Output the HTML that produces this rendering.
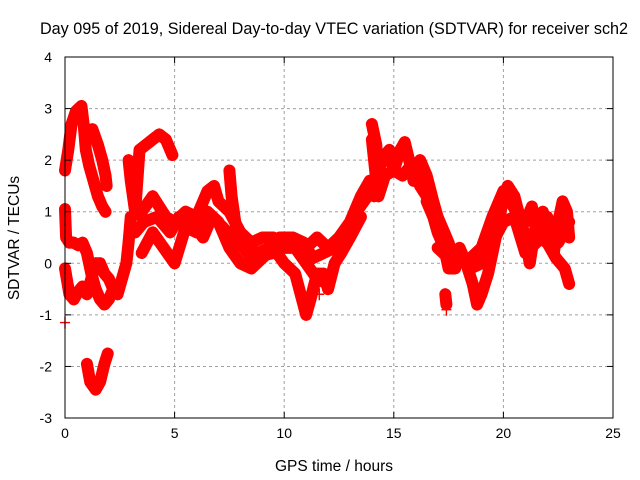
<!DOCTYPE html>
<html><head><meta charset="utf-8"><style>
body{margin:0;background:#fff}
svg{display:block;font-family:"Liberation Sans",sans-serif}
</style></head><body>
<svg id="chart" width="640" height="480" viewBox="0 0 640 480">
<text x="334" y="34" font-size="16.2" text-anchor="middle">Day 095 of 2019, Sidereal Day-to-day VTEC variation (SDTVAR) for receiver sch2</text>
<text x="334" y="471" font-size="15.5" text-anchor="middle">GPS time / hours</text>
<text x="0" y="0" font-size="15.5" text-anchor="middle" transform="translate(19,238) rotate(-90)">SDTVAR / TECUs</text>
<g id="grid"></g>
<g id="marks"></g>
<rect x="65" y="57" width="548" height="361" fill="none" stroke="#000" stroke-width="1"/>
<g id="ticks"></g>
</svg>
<script>
const xTicks=[0,5,10,15,20,25];
const yTicks=[-3,-2,-1,0,1,2,3,4];
const trackA=[[0,1.8],[0.15,2.2],[0.3,2.7],[0.5,2.95],[0.75,3.05],[0.85,2.7],[0.95,2.2],[1.1,1.9],[1.3,1.6],[1.5,1.3],[1.7,1.1],[1.85,1.0]];
const trackB=[[1.25,2.6],[1.5,2.3],[1.7,2.0],[1.85,1.7],[1.9,1.5]];
const trackC=[[1.0,-1.95],[1.15,-2.3],[1.4,-2.45],[1.6,-2.3],[1.8,-1.95],[1.95,-1.75]];
const trackD=[[0,1.05],[0.05,0.5],[0.2,0.4],[0.4,0.4],[0.6,0.35],[0.8,0.4],[1.0,0.2],[1.2,-0.2],[1.4,-0.5],[1.6,-0.7],[1.8,-0.8],[2.0,-0.7],[2.2,-0.5]];
const trackE=[[0,-0.1],[0.2,-0.6],[0.4,-0.7],[0.6,-0.55],[0.8,-0.45],[1.0,-0.6],[1.2,-0.3],[1.4,0.0],[1.6,0.0],[1.8,-0.2],[2.0,-0.3],[2.2,-0.5],[2.4,-0.6],[2.6,-0.3],[2.8,0.0],[2.9,0.4]];
const trackF=[[2.9,2.0],[3.0,1.6],[3.1,1.3],[3.2,1.0],[3.4,2.2],[3.7,2.3],[4.0,2.4],[4.3,2.5],[4.6,2.4],[4.9,2.1]];
const trackG=[[2.9,0.4],[3.0,0.9],[3.5,1.0],[4.0,1.3],[4.3,1.1],[4.6,0.9],[5.0,0.8],[5.5,1.0],[6.0,0.9],[6.5,1.4],[6.8,1.5],[7.0,1.2],[7.5,1.0],[8.0,0.6],[8.5,0.4],[9.0,0.5],[9.5,0.5],[10,0.4],[10.5,0.35],[11,0.3],[11.5,0.5],[12,0.3],[12.5,0.5],[13,0.8],[13.5,1.3],[13.9,1.6]];
const trackH=[[3.5,0.2],[4.0,0.6],[4.5,0.3],[5.0,0.0],[5.5,0.7],[6.0,0.6],[6.5,1.0],[7.0,0.8],[7.5,0.3],[8.0,0.0],[8.5,-0.1],[9.0,0.1],[9.5,0.3],[10,0.0],[10.5,-0.2],[11,-1.0],[11.2,-0.7],[11.5,-0.2],[11.8,-0.2],[12,-0.5],[12.3,0.0],[12.6,0.2],[13,0.5],[13.5,0.9]];
const trackI=[[7.5,1.8],[7.6,1.3],[7.8,0.7],[8.0,0.4],[8.5,0.1],[9.5,0.2],[10,0.3],[10.5,0.3],[11,0.0],[11.5,-0.3],[12,-0.4]];
const trackJ=[[14.0,2.7],[14.2,2.3],[14.3,1.6],[14.4,1.9],[14.6,2.1],[14.8,2.2],[15.0,1.8],[15.3,2.2],[15.5,2.35],[15.7,2.0],[15.9,1.6],[16.0,1.9],[16.2,2.0],[16.5,1.7],[16.8,1.2],[17.0,0.9],[17.3,0.6],[17.5,0.4],[17.7,0.1]];
const trackK=[[14.0,2.4],[14.1,2.0],[14.2,1.6],[14.1,1.3]];
const trackL=[[16.5,1.2],[16.8,0.9],[17.0,0.6],[17.3,0.3],[17.5,-0.1],[17.8,-0.1],[18.0,0.3],[18.3,0.0],[18.6,-0.4],[18.8,-0.8],[19.0,-0.6],[19.3,-0.2],[19.5,0.2],[19.8,0.8],[20.0,1.3],[20.2,1.5],[20.5,1.3],[20.8,0.8],[21.0,0.5],[21.2,0.0],[21.5,0.8],[21.8,1.0],[22.0,0.6],[22.3,0.2],[22.5,0.8],[22.7,1.2],[22.9,1.0],[23.0,0.5]];
const trackM=[[18.5,0.1],[19.0,0.3],[19.5,0.9],[20.0,1.4],[20.3,1.2],[20.6,1.0],[21.0,0.8],[21.3,1.1],[21.6,0.5],[22.0,0.4],[22.4,0.1],[22.8,-0.1],[23.0,-0.4]];
const trackN=[[17.35,-0.6],[17.4,-0.8]];
const trackO=[[3.2,0.6],[3.6,0.8],[4.2,0.9],[4.8,0.6],[5.2,0.9],[5.8,0.8],[6.3,0.5],[6.7,0.9],[7.2,0.7],[7.6,0.5],[8.2,0.3],[8.8,0.2],[9.3,0.3],[9.8,0.5],[10.4,0.5],[10.9,0.4],[11.3,0.1],[11.8,0.2],[12.3,0.3],[12.8,0.6],[13.3,1.0],[13.8,1.3]];
const trackP=[[17.0,0.3],[17.5,0.1],[18.0,0.1],[18.5,-0.1],[19.0,0.0],[19.5,0.4],[20.0,0.8],[20.5,0.9],[21.0,0.2],[21.5,0.4],[22.0,0.9],[22.5,0.4],[23.0,0.8]];
const trackQ=[[14.3,1.3],[14.6,1.7],[15.0,1.8],[15.4,1.7],[15.8,1.9],[16.2,1.5],[16.5,1.3]];
const tracks=[trackA,trackB,trackC,trackD,trackE,trackF,trackG,trackH,trackI,trackJ,trackK,trackL,trackM,trackN,trackO,trackP,trackQ];
const loose=[[0,-1.15],[11.6,-0.6],[17.4,-0.9]];

const X=t=>65+t*548/25;
const Y=v=>263.3-v*361/7;
const NS="http://www.w3.org/2000/svg";
const grid=document.getElementById('grid'),marks=document.getElementById('marks'),ticks=document.getElementById('ticks');
function mk(tag,a,p){const e=document.createElementNS(NS,tag);for(const k in a)e.setAttribute(k,a[k]);p.appendChild(e);return e;}
xTicks.forEach(t=>{
 if(t>0&&t<25){const g=mk('line',{x1:X(t),x2:X(t),y1:57,y2:418,stroke:'#a0a0a0','stroke-dasharray':'3,3'},grid);
 
 }
 const l=mk('text',{x:X(t),y:438,'font-size':14,'text-anchor':'middle'},ticks);l.textContent=t;
 
 
 mk('line',{x1:X(t),x2:X(t),y1:418,y2:412,stroke:'#000'},ticks);
 mk('line',{x1:X(t),x2:X(t),y1:57,y2:63,stroke:'#000'},ticks);
});
yTicks.forEach(v=>{
 if(v>-3&&v<4){const g=mk('line',{x1:65,x2:613,y1:Y(v),y2:Y(v),stroke:'#a0a0a0','stroke-dasharray':'3,3'},grid);
 
 }
 const l=mk('text',{x:52,y:Y(v)+5,'font-size':14,'text-anchor':'end'},ticks);l.textContent=v;
 
 
 mk('line',{x1:65,x2:71,y1:Y(v),y2:Y(v),stroke:'#000'},ticks);
 mk('line',{x1:613,x2:607,y1:Y(v),y2:Y(v),stroke:'#000'},ticks);
});
function cross(t,v){
 const x=X(t),y=Y(v);
 const p=mk('path',{d:`M${x-5},${y}H${x+5}M${x},${y-6}V${y+6}`,stroke:'red','stroke-width':1.4},marks);
 
 
}
tracks.forEach(tr=>{
 const pl=mk('polyline',{points:tr.map(p=>X(p[0])+','+Y(p[1])).join(' '),fill:'none',stroke:'red','stroke-width':12,'stroke-linejoin':'round','stroke-linecap':'round'},marks);
 
 
 tr.forEach(p=>cross(p[0],p[1]));
});
loose.forEach(p=>cross(p[0],p[1]));
</script>
</body></html>
